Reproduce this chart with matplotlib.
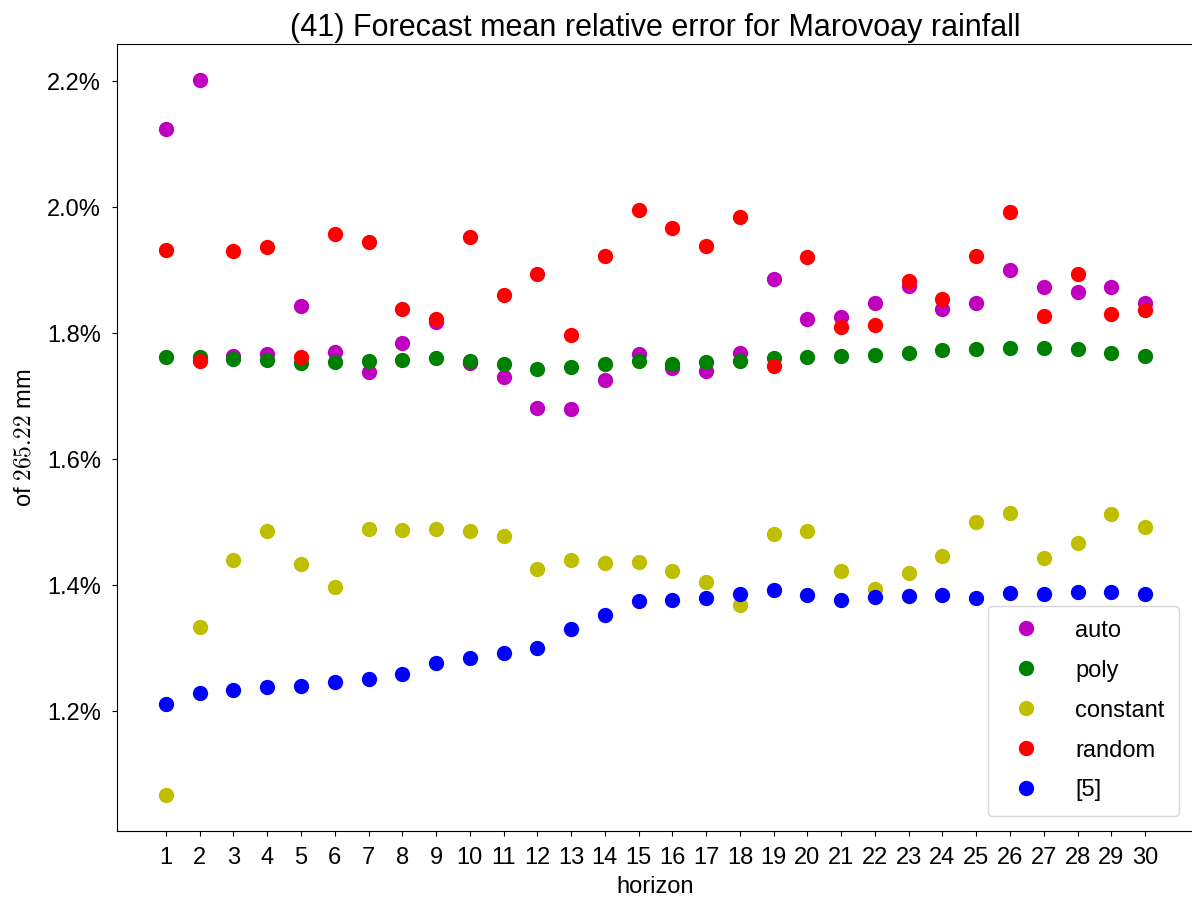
import matplotlib
matplotlib.use("Agg")
import matplotlib.pyplot as plt
from matplotlib.ticker import FuncFormatter, MultipleLocator

plt.rcParams['font.family'] = ['Liberation Sans', 'DejaVu Sans']
plt.rcParams['mathtext.fontset'] = 'cm'

horizon = list(range(1, 31))

auto = [2.124, 2.202, 1.763, 1.767, 1.843, 1.770, 1.739, 1.784, 1.817, 1.752,
        1.731, 1.681, 1.679, 1.725, 1.767, 1.744, 1.740, 1.768, 1.886, 1.822,
        1.826, 1.848, 1.875, 1.838, 1.848, 1.900, 1.873, 1.866, 1.873, 1.848]
poly = [1.762, 1.762, 1.759, 1.757, 1.752, 1.754, 1.756, 1.758, 1.760, 1.756,
        1.751, 1.743, 1.746, 1.751, 1.756, 1.751, 1.754, 1.756, 1.760, 1.762,
        1.764, 1.766, 1.769, 1.774, 1.775, 1.777, 1.777, 1.775, 1.768, 1.763]
constant = [1.067, 1.334, 1.440, 1.486, 1.434, 1.397, 1.490, 1.488, 1.489, 1.486,
            1.479, 1.426, 1.440, 1.435, 1.437, 1.423, 1.405, 1.369, 1.482, 1.486,
            1.422, 1.394, 1.420, 1.446, 1.500, 1.515, 1.444, 1.467, 1.513, 1.492]
random_ = [1.932, 1.756, 1.931, 1.936, 1.762, 1.957, 1.944, 1.839, 1.822, 1.953,
           1.861, 1.894, 1.797, 1.922, 1.996, 1.967, 1.939, 1.985, 1.748, 1.921,
           1.810, 1.813, 1.883, 1.854, 1.923, 1.993, 1.827, 1.894, 1.830, 1.837]
ref5 = [1.211, 1.229, 1.234, 1.238, 1.241, 1.247, 1.251, 1.260, 1.276, 1.284,
        1.293, 1.301, 1.330, 1.353, 1.375, 1.377, 1.380, 1.387, 1.393, 1.385,
        1.377, 1.382, 1.383, 1.384, 1.380, 1.388, 1.387, 1.390, 1.389, 1.386]

series = [("auto", auto, "m"), ("poly", poly, "g"), ("constant", constant, "y"),
          ("random", random_, "r"), ("[5]", ref5, "b")]

fig = plt.figure(figsize=(11.92, 9.02), dpi=100)
# right spine falls just past the image edge in the original
ax = fig.add_axes([117 / 1192, 1 - 831 / 902, (1194 - 117) / 1192, (831 - 44) / 902])

for name, vals, c in series:
    ax.plot(horizon, vals, 'o', color=c, markersize=10, label=name)

ax.set_xticks(horizon)
ax.yaxis.set_major_locator(MultipleLocator(0.2))
ax.yaxis.set_major_formatter(FuncFormatter(lambda v, p: f"{v:.1f}%"))
ax.tick_params(labelsize=17, pad=8)
ax.set_xlabel("horizon", fontsize=17, labelpad=5)
ax.set_ylabel("of $265.22$ mm", fontsize=17, labelpad=8)
ax.set_title("(41) Forecast mean relative error for Marovoay rainfall", fontsize=22, pad=6)
ax.legend(loc="lower right", fontsize=17, numpoints=1, borderpad=0.6,
          labelspacing=0.76, handletextpad=1.1, borderaxespad=0.65)

fig.savefig("out.png", dpi=100)
